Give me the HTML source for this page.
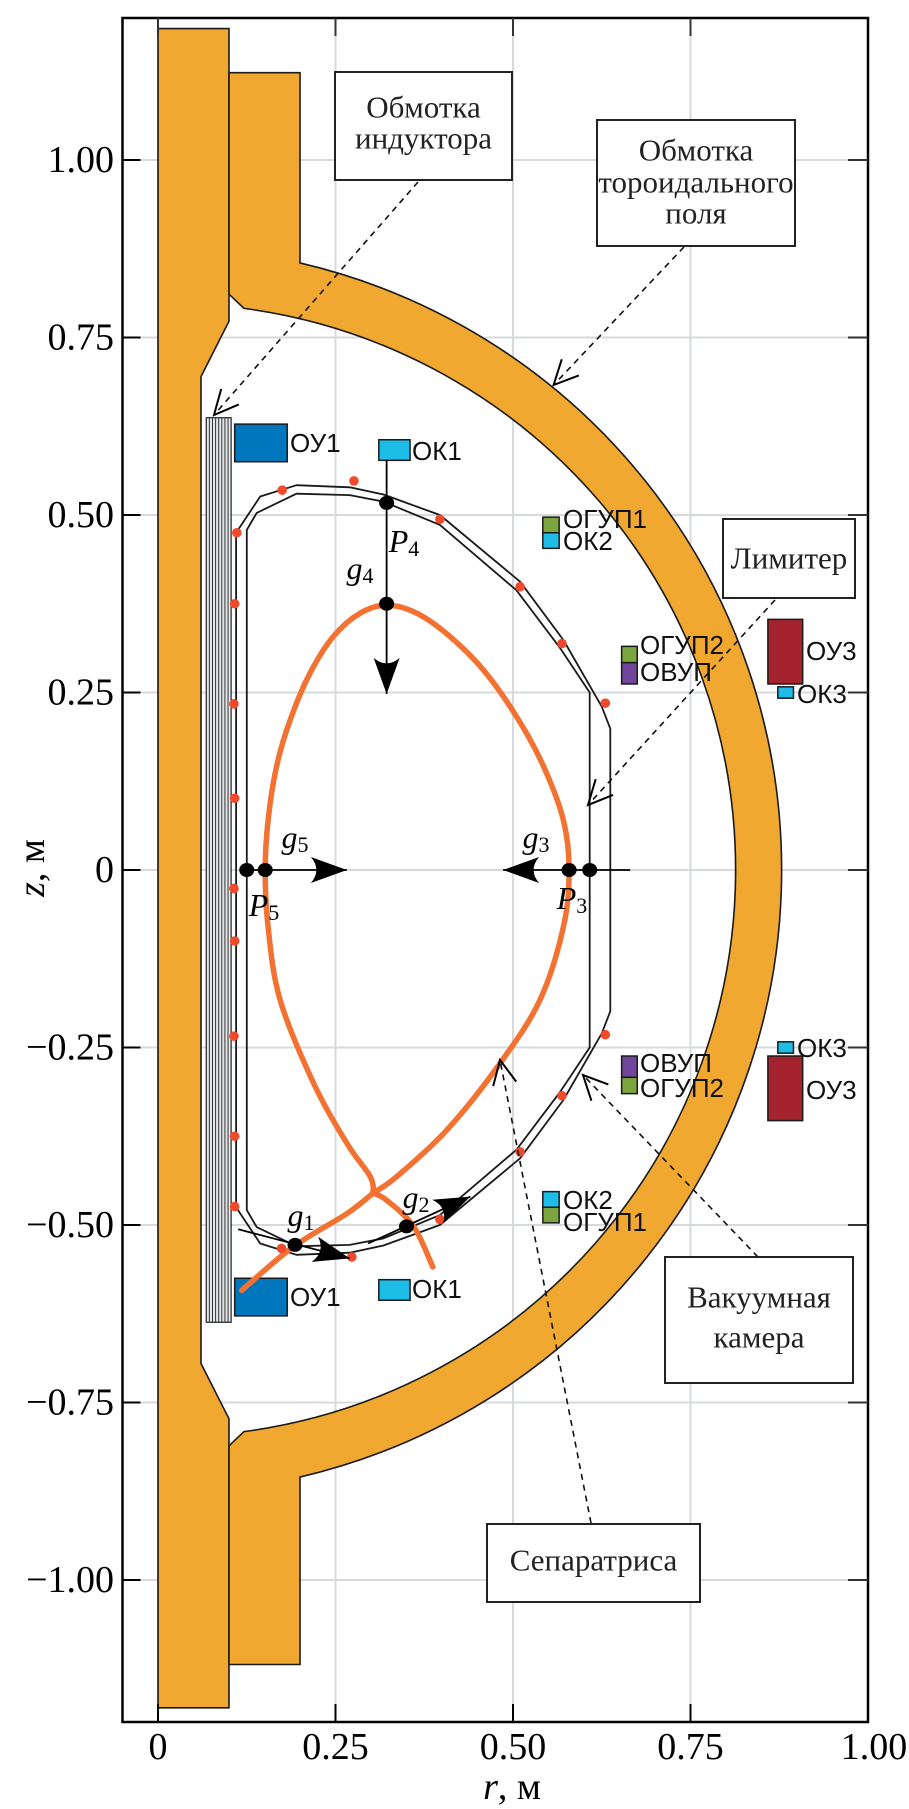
<!DOCTYPE html>
<html><head><meta charset="utf-8">
<style>
html,body{margin:0;padding:0;background:#fff;}
svg{display:block;}
.serif{font-family:"Liberation Serif","DejaVu Serif",serif;}
.sans{font-family:"Liberation Sans","DejaVu Sans",sans-serif;}
</style></head>
<body>
<svg id="fig" width="909" height="1809" viewBox="0 0 909 1809" xmlns="http://www.w3.org/2000/svg">
<g id="grid"></g>
<g id="struct"></g>
<g id="over"></g>
<g id="axes"></g>
</svg>
<script>
// ---- data ----
const rTicks=[0,0.25,0.5,0.75,1.0];
const rTickLabels=['0','0.25','0.50','0.75','1.00'];
const zTicks=[1,0.75,0.5,0.25,0,-0.25,-0.5,-0.75,-1];
const zTickLabels=['1.00','0.75','0.50','0.25','0','\u22120.25','\u22120.50','\u22120.75','\u22121.00'];
const rRange=[-0.05,1.0];
const zRange=[-1.2,1.2];
const columnPts=[[0,1.185],[0.1,1.185],[0.1,0.773],[0.0605,0.695],[0.0605,-0.695],[0.1,-0.773],[0.1,-1.18],[0,-1.18]];
const tfLeg={r1:0.1,r2:0.2,zTop:1.123,zBot:-1.119,zOuterJoin:0.855,zInnerJoin:0.811,rInnerKnee:0.121,zInnerKnee:0.791};
const tfOuterR=0.878, tfInnerR=0.798;
const coil={r1:0.068,r2:0.103,z1:-0.637,z2:0.637,n:8};
const chamberOuter=[[0.110,0.475],[0.144,0.526],[0.195,0.542],[0.270,0.539],[0.317,0.529],[0.397,0.500],[0.510,0.406],[0.571,0.324],[0.625,0.230],[0.637,0.199]];
const chamberInner=[[0.125,0.479],[0.139,0.503],[0.195,0.530],[0.270,0.528],[0.317,0.519],[0.397,0.486],[0.505,0.394],[0.566,0.313],[0.608,0.25]];
const sepCore=[[0.303,-0.455],[0.336,-0.432],[0.407,-0.366],[0.482,-0.272],[0.538,-0.183],[0.571,-0.08],[0.579,0.0],[0.571,0.070],[0.543,0.146],[0.505,0.216],[0.458,0.282],[0.411,0.329],[0.364,0.362],[0.322,0.373],[0.285,0.362],[0.247,0.329],[0.214,0.277],[0.186,0.211],[0.167,0.146],[0.155,0.070],[0.151,0.0],[0.155,-0.08],[0.172,-0.183],[0.219,-0.300],[0.266,-0.385],[0.299,-0.432],[0.303,-0.455]];
const sepLeg1=[[0.303,-0.455],[0.322,-0.465],[0.360,-0.502],[0.387,-0.559]];
const sepLeg2=[[0.303,-0.455],[0.266,-0.484],[0.190,-0.531],[0.118,-0.592]];
const probeR=[0.111,0.108,0.107,0.108,0.107,0.108,0.107,0.108,0.108,0.175,0.276,0.397,0.51,0.569,0.63,0.174,0.273,0.397,0.51,0.569,0.63];
const probeZ=[0.475,0.375,0.234,0.101,-0.026,-0.10,-0.234,-0.375,-0.474,0.535,0.548,0.494,0.399,0.319,0.235,-0.533,-0.545,-0.492,-0.397,-0.318,-0.232];
const gapR=[0.322,0.322,0.125,0.151,0.579,0.608,0.193,0.35];
const gapZ=[0.517,0.375,0,0,0,0,-0.528,-0.502];
const gapLines=[[0.322,0.577,0.322,0.248],[0.125,0,0.266,0],[0.665,0,0.486,0],[0.113,-0.506,0.270,-0.547],[0.296,-0.526,0.44,-0.46]];
const coilBoxes=[
 ['ou1-top',0.108,0.182,0.575,0.628,'#0077bd'],['ou1-bottom',0.108,0.182,-0.628,-0.575,'#0077bd'],
 ['ok1-top',0.311,0.355,0.577,0.606,'#1dbde8'],['ok1-bottom',0.311,0.355,-0.606,-0.577,'#1dbde8'],
 ['ogup1-top',0.542,0.565,0.475,0.497,'#7ba53f'],['ok2-top',0.542,0.565,0.453,0.475,'#1dbde8'],
 ['ok2-bottom',0.542,0.565,-0.475,-0.453,'#1dbde8'],['ogup1-bottom',0.542,0.565,-0.497,-0.475,'#7ba53f'],
 ['ogup2-top',0.653,0.675,0.292,0.315,'#7ba53f'],['ovup-top',0.653,0.675,0.262,0.292,'#6f469b'],
 ['ovup-bottom',0.653,0.675,-0.292,-0.262,'#6f469b'],['ogup2-bottom',0.653,0.675,-0.315,-0.292,'#7ba53f'],
 ['ou3-top',0.859,0.908,0.262,0.353,'#a4232f'],['ok3-top',0.873,0.895,0.242,0.258,'#1dbde8'],
 ['ok3-bottom',0.873,0.895,-0.258,-0.242,'#1dbde8'],['ou3-bottom',0.859,0.908,-0.353,-0.262,'#a4232f']];
const coilLabels=[['ОУ1',290,443],['ОУ1',290,1297],['ОК1',412,451],['ОК1',412,1289],
 ['ОГУП1',563,519],['ОК2',563,541],['ОК2',563,1200],['ОГУП1',563,1222],
 ['ОГУП2',640,645],['ОВУП',640,672],['ОВУП',640,1063],['ОГУП2',640,1088],
 ['ОУ3',806,651],['ОК3',797,694],['ОК3',797,1048],['ОУ3',806,1090]];

// ---- scales ----
const X0=158, Z0=870, S=710;
function X(r){return X0+S*r;}
function Y(z){return Z0-S*z;}
const NS='http://www.w3.org/2000/svg';
function mk(tag,attrs,parent){const e=document.createElementNS(NS,tag);for(const k in attrs)e.setAttribute(k,attrs[k]);parent.appendChild(e);return e;}
function poly(pts){return pts.map((p,i)=>(i?'L':'M')+X(p[0]).toFixed(1)+','+Y(p[1]).toFixed(1)).join(' ');}
function smooth(pts){
 const P=pts.map(p=>[X(p[0]),Y(p[1])]);let d='M'+P[0][0]+','+P[0][1];
 for(let i=0;i<P.length-1;i++){const p0=P[i-1]||P[i],p1=P[i],p2=P[i+1],p3=P[i+2]||P[i+1];
  const c1=[p1[0]+(p2[0]-p0[0])/6,p1[1]+(p2[1]-p0[1])/6],c2=[p2[0]-(p3[0]-p1[0])/6,p2[1]-(p3[1]-p1[1])/6];
  d+=' C'+c1[0].toFixed(1)+','+c1[1].toFixed(1)+' '+c2[0].toFixed(1)+','+c2[1].toFixed(1)+' '+p2[0].toFixed(1)+','+p2[1].toFixed(1);}
 return d;}
const grid=document.getElementById('grid'),st=document.getElementById('struct'),ov=document.getElementById('over'),ax=document.getElementById('axes');
const L=X(rRange[0]),R=X(rRange[1]),T=Y(zRange[1]),B=Y(zRange[0]);

rTicks.forEach(r=>{if(r<1){const e=mk('line',{x1:X(r),x2:X(r),y1:T,y2:B,stroke:'#d6dadd','stroke-width':2},grid);

}});
zTicks.forEach(z=>{const e=mk('line',{x1:L,x2:R,y1:Y(z),y2:Y(z),stroke:'#d6dadd','stroke-width':2},grid);

});

let e=mk('path',{d:poly(columnPts)+'Z',fill:'#f0a830',stroke:'#1a1a1a','stroke-width':1.6},st);


const t=tfLeg;
const dTF='M'+X(t.r1)+','+Y(t.zTop)+' L'+X(t.r2)+','+Y(t.zTop)+' L'+X(t.r2)+','+Y(t.zOuterJoin)+
 ' A'+S*tfOuterR+','+S*tfOuterR+' 0 0 1 '+X(t.r2)+','+Y(-t.zOuterJoin)+
 ' L'+X(t.r2)+','+Y(t.zBot)+' L'+X(t.r1)+','+Y(t.zBot)+' L'+X(t.r1)+','+Y(-t.zInnerJoin)+
 ' L'+X(t.rInnerKnee)+','+Y(-t.zInnerKnee)+
 ' A'+S*tfInnerR+','+S*tfInnerR+' 0 0 0 '+X(t.rInnerKnee)+','+Y(t.zInnerKnee)+
 ' L'+X(t.r1)+','+Y(t.zInnerJoin)+' Z';
e=mk('path',{d:dTF,fill:'#f0a830',stroke:'#1a1a1a','stroke-width':1.6},st);


e=mk('rect',{x:X(coil.r1),y:Y(coil.z2),width:X(coil.r2)-X(coil.r1),height:Y(coil.z1)-Y(coil.z2),fill:'#e4e6e8',stroke:'#222','stroke-width':1.2},st);


for(let i=1;i<coil.n;i++){const xx=X(coil.r1)+(X(coil.r2)-X(coil.r1))*i/coil.n;
 const l=mk('line',{x1:xx,x2:xx,y1:Y(coil.z2),y2:Y(coil.z1),stroke:'#333','stroke-width':1},st);
 
 }

function mirrorLoop(top){const up=top.slice().reverse();const down=top.map(p=>[p[0],-p[1]]);return up.concat(down);}
const outerLoop=mirrorLoop(chamberOuter), innerLoop=mirrorLoop(chamberInner);
e=mk('path',{d:poly(outerLoop)+'Z',fill:'none',stroke:'#1a1a1a','stroke-width':1.8,'stroke-linejoin':'round'},st);


e=mk('path',{d:poly(innerLoop)+'Z',fill:'none',stroke:'#1a1a1a','stroke-width':1.8,'stroke-linejoin':'round'},st);



coilBoxes.forEach(b=>{const r=mk('rect',{x:X(b[1]),y:Y(b[4]),width:X(b[2])-X(b[1]),height:Y(b[3])-Y(b[4]),fill:b[5],stroke:'#1a1a1a','stroke-width':1.5},st);
 
 });
coilLabels.forEach(c=>{const tx=mk('text',{x:c[1],y:c[2],'font-size':26,'dominant-baseline':'central',class:'sans',fill:'#111'},ov);tx.textContent=c[0];
 
 });

[sepCore,sepLeg1,sepLeg2].forEach((s,i)=>{const p=mk('path',{d:smooth(s),fill:'none',stroke:'#f37232','stroke-width':5.5,'stroke-linecap':'round','stroke-linejoin':'round'},st);
 
 });

probeR.forEach((r,i)=>{const c=mk('circle',{cx:X(r),cy:Y(probeZ[i]),r:4.8,fill:'#f04a2c'},ov);
 
 });

function filledArrow(x,y,ang,parent){const g=mk('path',{d:'M0,0 L-36,-13 Q-25,0 -36,13 Z',fill:'#000',transform:'translate('+x+','+y+') rotate('+ang+')'},parent);return g;}
gapLines.forEach(g=>{const x1=X(g[0]),y1=Y(g[1]),x2=X(g[2]),y2=Y(g[3]);
 const l=mk('line',{x1:x1,y1:y1,x2:x2,y2:y2,stroke:'#000','stroke-width':1.8},ov);
 
 
 const a=filledArrow(x2,y2,Math.atan2(y2-y1,x2-x1)*180/Math.PI,ov);
 
 });
gapR.forEach((r,i)=>{const c=mk('ellipse',{cx:X(r),cy:Y(gapZ[i]),rx:7.5,ry:7,fill:'#000'},ov);
 
 });

const gLabels=[['g','4',360,568],['P','4',404,541],['g','5',295,837],['P','5',264,905],['g','3',536,837],['P','3',572,898],['g','1',301,1215],['g','2',416,1197]];
gLabels.forEach(g=>{const tx=mk('text',{x:g[2],y:g[3],'font-size':32,'text-anchor':'middle','dominant-baseline':'central',class:'serif','font-style':'italic'},ov);
 tx.textContent=g[0];
 const s=mk('tspan',{'font-size':22,'font-style':'normal',dy:7},tx);s.textContent=g[1];
 
 });

const notes=[['inductor-coil-callout',335,72,512,180,[['Обмотка',107],['индуктора',138]]],
 ['toroidal-field-callout',597,120,795,246,[['Обмотка',150],['тороидального',182],['поля',213]]],
 ['limiter-callout',723,519,855,598,[['Лимитер',558]]],
 ['vacuum-chamber-callout',665,1257,853,1383,[['Вакуумная',1297],['камера',1337]]],
 ['separatrix-callout',487,1524,700,1602,[['Сепаратриса',1560]]]];
notes.forEach(n=>{const g=mk('g',{},ov);
 
 
 mk('rect',{x:n[1],y:n[2],width:n[3]-n[1],height:n[4]-n[2],fill:'#fff',stroke:'#222','stroke-width':2},g);
 n[5].forEach(l=>{const tx=mk('text',{x:(n[1]+n[3])/2,y:l[1],'font-size':31,'text-anchor':'middle','dominant-baseline':'central',class:'serif',fill:'#222'},g);tx.textContent=l[0];});});
const leaders=[[418,182,214,415],[684,247,553.6,385],[775,600,588,805],[758,1257,583,1075],[591,1523,500,1060]];
leaders.forEach(l=>{const g=mk('g',{},ov);
 
 
 mk('line',{x1:l[0],y1:l[1],x2:l[2],y2:l[3],stroke:'#111','stroke-width':1.6,'stroke-dasharray':'6,5'},g);
 const a=Math.atan2(l[3]-l[1],l[2]-l[0]);const len=27,h=0.45;
 const p1=[l[2]-len*Math.cos(a-h),l[3]-len*Math.sin(a-h)],p2=[l[2]-len*Math.cos(a+h),l[3]-len*Math.sin(a+h)];
 mk('path',{d:'M'+p1+' L'+l[2]+','+l[3]+' L'+p2,fill:'none',stroke:'#000','stroke-width':2},g);});

e=mk('rect',{x:L,y:T,width:R-L,height:B-T,fill:'none',stroke:'#000','stroke-width':2.5},ax);


zTicks.forEach((z,i)=>{mk('line',{x1:L,x2:L+18,y1:Y(z),y2:Y(z),stroke:'#000','stroke-width':2},ax);
 mk('line',{x1:R-20,x2:R,y1:Y(z),y2:Y(z),stroke:'#333','stroke-width':2},ax);
 const tx=mk('text',{x:114,y:Y(z),'font-size':38,'text-anchor':'end','dominant-baseline':'central',class:'serif'},ax);tx.textContent=zTickLabels[i];
 
 });
rTicks.forEach((r,i)=>{if(r<1){mk('line',{x1:X(r),x2:X(r),y1:B-18,y2:B,stroke:'#000','stroke-width':2},ax);
 mk('line',{x1:X(r),x2:X(r),y1:T,y2:T+18,stroke:'#333','stroke-width':2},ax);}
 const tx=mk('text',{x:X(r)+(r===1?6:0),y:1747,'font-size':38,'text-anchor':'middle','dominant-baseline':'central',class:'serif'},ax);tx.textContent=rTickLabels[i];
 
 });
let tt=mk('text',{x:512,y:1787,'font-size':38,'text-anchor':'middle','dominant-baseline':'central',class:'serif'},ax);
tt.innerHTML='<tspan font-style="italic">r</tspan>, м';


tt=mk('text',{x:32,y:868,'font-size':38,'text-anchor':'middle','dominant-baseline':'central',class:'serif',transform:'rotate(-90 32 868)'},ax);
tt.innerHTML='<tspan font-style="italic">z</tspan>, м';


</script>
</body></html>
